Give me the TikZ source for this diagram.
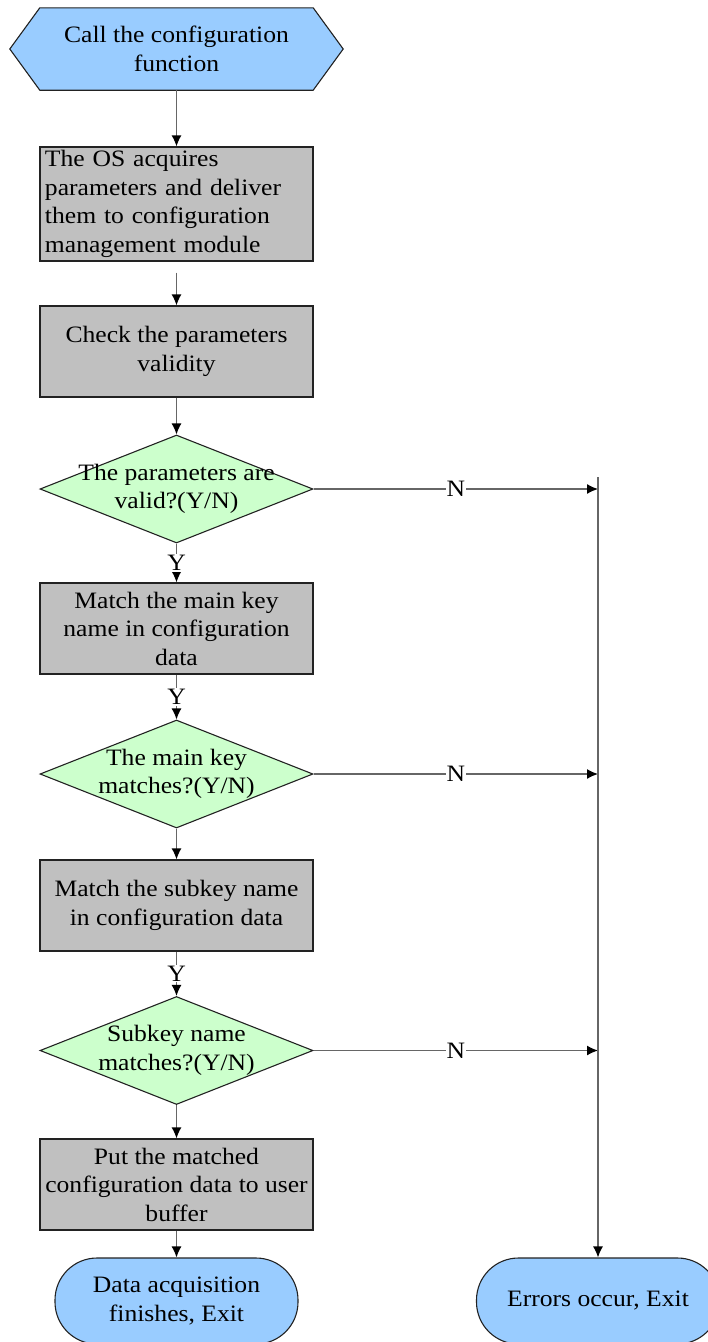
\documentclass[tikz,border=0pt]{standalone}
\usepackage{fontspec}
\setmainfont{Liberation Serif}[FakeStretch=1.09]
\usetikzlibrary{arrows.meta,shapes.geometric,backgrounds}
\definecolor{termblue}{HTML}{99CCFF}
\definecolor{boxgray}{HTML}{C0C0C0}
\definecolor{decgreen}{HTML}{CCFFCC}
\definecolor{linegray}{HTML}{666666}
\definecolor{edgedark}{HTML}{222222}
\begin{document}
\begin{tikzpicture}[x=1pt,y=-1pt,
  every node/.style={font=\fontsize{23.5}{28.5}\selectfont},
  procbox/.style={rectangle,draw=edgedark,line width=1.2pt,fill=boxgray,
    minimum width=273pt,inner sep=0pt,align=center},
  decision/.style={diamond,draw=edgedark,line width=1.1pt,fill=decgreen,
    minimum width=273pt,minimum height=108pt,inner sep=0pt},
  terminal/.style={rectangle,rounded corners=42pt,draw=edgedark,line width=1.1pt,
    fill=termblue,minimum width=243pt,minimum height=86pt,inner sep=0pt,align=center},
  conn/.style={draw=linegray,line width=1.3pt,-{Latex[length=11pt,width=10pt,color=black]}},
  lbl/.style={fill=white,inner sep=1pt}
]
\useasboundingbox (0,0) rectangle (708,1342);

% start hexagon
\node[rectangle,minimum width=273pt,minimum height=82pt,inner sep=0pt,align=center] (start) at (176.5,49)
  {Call the configuration\\function};
\begin{scope}[on background layer]
\draw[draw=edgedark,line width=1.1pt,fill=termblue]
  (start.north west) -- (start.north east) -- ([xshift=30pt]start.east)
  -- (start.south east) -- (start.south west) -- ([xshift=-30pt]start.west) -- cycle;
\end{scope}

\node[procbox,minimum height=114pt,align=left,text width=263pt,inner xsep=5pt] (b1) at (176.5,204)
  {The OS acquires\\parameters and deliver\\them to configuration\\management module};
\node[procbox,minimum height=91pt] (b2) at (176.5,351.5) {Check the parameters\\validity};
\node[decision] (d1) at (176.5,489) {};
\node[align=center] (d1t) at (d1.center) {The parameters are\\valid?(Y/N)};
\node[procbox,minimum height=91pt] (b3) at (176.5,628.5) {Match the main key\\name in configuration\\data};
\node[decision] (d2) at (176.5,774) {};
\node[align=center] (d2t) at (d2.center) {The main key\\matches?(Y/N)};
\node[procbox,minimum height=91pt] (b4) at (176.5,905.5) {Match the subkey name\\in configuration data};
\node[decision] (d3) at (176.5,1050.5) {};
\node[align=center] (d3t) at (d3.center) {Subkey name\\matches?(Y/N)};
\node[procbox,minimum height=91pt] (b5) at (176.5,1184.5) {Put the matched\\configuration data to user\\buffer};
\node[terminal] (e1) at (176.5,1301) {Data acquisition\\finishes, Exit};
\node[terminal] (e2) at (598,1301) {Errors occur, Exit};

\coordinate (vtop) at (598,477);

% main flow
\draw[conn] (start.south) -- (b1.north);
\draw[conn,shorten <=11pt] (b1.south) -- (b2.north);
\draw[conn] (b2.south) -- (d1.north);
\draw[conn] (d1.south) -- node[lbl] (y1) {Y} (b3.north);
\draw[conn] (b3.south) -- node[lbl] (y2) {Y} (d2.north);
\draw[conn] (d2.south) -- (b4.north);
\draw[conn] (b4.south) -- node[lbl] (y3) {Y} (d3.north);
\draw[conn] (d3.south) -- (b5.north);
\draw[conn] (b5.south) -- (e1.north);

% error branch
\draw[conn] (d1.east) -- node[lbl] (n1) {N} (d1.east -| vtop);
\draw[conn] (d2.east) -- node[lbl] (n2) {N} (d2.east -| vtop);
\draw[conn] (d3.east) -- node[lbl] (n3) {N} (d3.east -| vtop);
\draw[conn] (vtop) -- (e2.north);
\end{tikzpicture}
\end{document}
